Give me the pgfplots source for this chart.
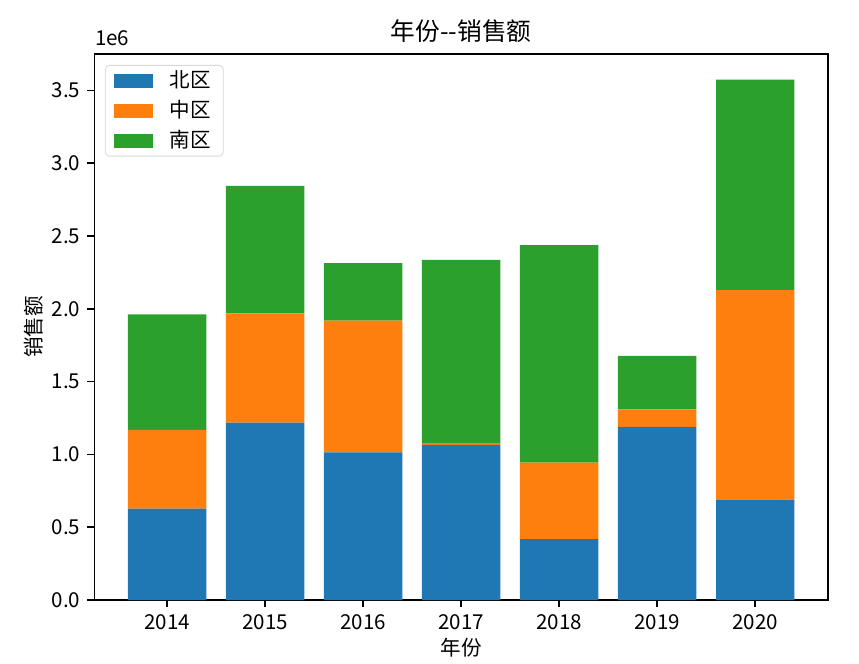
\documentclass[border=0pt]{standalone}
\usepackage{pgfplots}
\pgfplotsset{compat=1.18}
\usepackage{fontspec}
\setmainfont{Noto Sans CJK SC}

\definecolor{tabblue}{HTML}{1F77B4}
\definecolor{taborange}{HTML}{FF7F0E}
\definecolor{tabgreen}{HTML}{2CA02C}

% sales in millions (1e6)
\pgfplotstableread{
x north mid south
0 0.628 0.540 0.793
1 1.218 0.750 0.876
2 1.015 0.903 0.395
3 1.065 0.012 1.259
4 0.418 0.526 1.493
5 1.189 0.121 0.366
6 0.690 1.438 1.445
}\sales

\begin{document}
\begin{tikzpicture}
\begin{axis}[
    scale only axis,
    width=356.5pt, height=265.5pt,
    ybar stacked, bar width=0.8,
    xmin=-0.74, xmax=6.74,
    ymin=0, ymax=3.749,
    xtick=data,
    xticklabels={2014,2015,2016,2017,2018,2019,2020},
    ytick={0,0.5,...,3.5},
    scaled y ticks=false,
    yticklabel style={/pgf/number format/.cd, fixed, fixed zerofill, precision=1},
    /pgf/number format/assume math mode=true,
    tick align=outside,
    major tick length=3.5pt,
    xtick pos=bottom, ytick pos=left,
    axis line style={line width=0.8pt},
    tick style={line width=0.8pt, black},
    tick label style={font=\fontsize{10}{12}\selectfont},
    title={年份-{}-销售额},
    title style={font=\fontsize{12}{14}\selectfont, at={(0.5,1)}, anchor=south, yshift=-4pt},
    xlabel={年份}, ylabel={销售额},
    label style={font=\fontsize{10}{12}\selectfont},
    xlabel style={yshift=3pt},
    ylabel style={yshift=-3pt},
    legend cell align=left,
    legend style={at={(0.014,0.98)}, anchor=north west,
        draw=black!15, rounded corners=2pt,
        font=\fontsize{10}{14}\selectfont,
        row sep=0.8pt, inner xsep=4pt, inner ysep=0.5pt},
    legend image code/.code={\fill[#1, sharp corners] (0pt,-3.4pt) rectangle (19.4pt,3.4pt);},
]
\addplot[fill=tabblue, draw=none] table[x=x, y=north] {\sales};
\addplot[fill=taborange, draw=none] table[x=x, y=mid] {\sales};
\addplot[fill=tabgreen, draw=none] table[x=x, y=south] {\sales};
\legend{\hspace{6pt}北区, \hspace{6pt}中区, \hspace{6pt}南区}
\end{axis}
\node[anchor=south west, inner sep=0pt, font=\fontsize{10}{12}\selectfont, yshift=4pt]
    at (current axis.north west) {1e6};
\pgfresetboundingbox
\path ([shift={(-46pt,-31pt)}]current axis.south west) rectangle ([shift={(15.2pt,26.3pt)}]current axis.north east);
\end{tikzpicture}
\end{document}
